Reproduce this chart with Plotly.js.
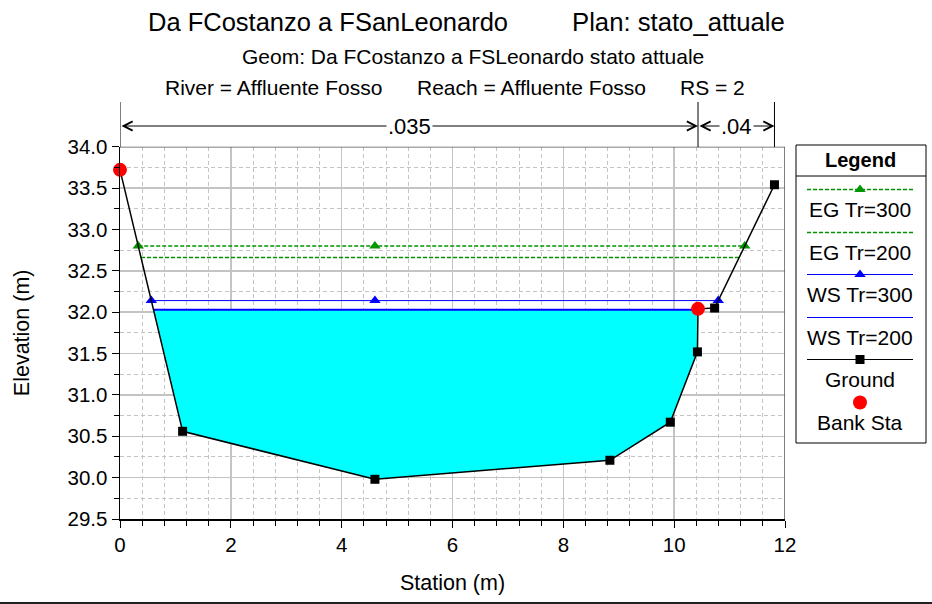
<!DOCTYPE html>
<html>
<head>
<meta charset="utf-8">
<script src="https://cdn.plot.ly/plotly-3.0.1.min.js"></script>
<style>html,body{margin:0;padding:0;background:#fff}#chart{width:932px;height:604px}</style>
</head>
<body>
<div id="chart"></div>
<script>
// ---- data ----
const groundStation = [0, 1.13, 4.60, 8.84, 9.93, 10.42, 10.43, 10.73, 11.81];
const groundElev    = [33.72, 30.56, 29.98, 30.21, 30.67, 31.52, 32.04, 32.05, 33.54];
const bankStation   = [0, 10.43];
const bankElev      = [33.72, 32.04];
const wsNames  = ['EG Tr=300', 'EG Tr=200', 'WS Tr=300', 'WS Tr=200'];
const wsElev   = [32.80, 32.66, 32.14, 32.03];
const nStations = [0, 10.43, 11.81];
const nValues   = ['.035', '.04'];
const titleLine1a = 'Da FCostanzo a FSanLeonardo';
const titleLine1b = 'Plan: stato_attuale';
const titleLine2  = 'Geom: Da FCostanzo a FSLeonardo stato attuale';
const titleLine3  = ['River = Affluente Fosso', 'Reach = Affluente Fosso', 'RS = 2'];
const legendNames = ['EG Tr=300', 'EG Tr=200', 'WS Tr=300', 'WS Tr=200', 'Ground', 'Bank Sta'];

const FONT = '"Liberation Sans", Arial, Helvetica, sans-serif';
const GREEN = '#009600';
const BLUE = '#0000ff';
const GRID = '#c4c4c4';
const EGDASH = '4px,2px';

// crossings of a level with the ground polyline
function crossings(level) {
  const xs = [];
  for (let i = 0; i < groundStation.length - 1; i++) {
    const y0 = groundElev[i], y1 = groundElev[i + 1];
    if ((y0 - level) * (y1 - level) <= 0 && y0 !== y1) {
      const t = (level - y0) / (y1 - y0);
      xs.push(groundStation[i] + t * (groundStation[i + 1] - groundStation[i]));
    }
  }
  return [xs[0], xs[xs.length - 1]];
}
// water polygon below level
function waterPoly(level) {
  const [xl, xr] = crossings(level);
  const px = [xl], py = [level];
  for (let i = 0; i < groundStation.length; i++) {
    if (groundStation[i] > xl && groundStation[i] < xr) { px.push(groundStation[i]); py.push(groundElev[i]); }
  }
  px.push(xr); py.push(level); px.push(xl); py.push(level);
  return {px, py, xl, xr};
}
const thalweg = groundStation[groundElev.indexOf(Math.min(...groundElev))];

const traces = [];
// fill for WS Tr=200
const wp = waterPoly(wsElev[3]);
traces.push({x: wp.px, y: wp.py, type: 'scatter', mode: 'lines', fill: 'toself',
  fillcolor: '#00ffff', line: {width: 0}, hoverinfo: 'skip', xaxis: 'x', yaxis: 'y'});

const wsStyles = [
  {color: GREEN, dash: EGDASH, width: 1.5, marker: 'triangle-up'},
  {color: GREEN, dash: EGDASH, width: 1.5, marker: null},
  {color: BLUE, dash: 'solid', width: 1, marker: 'triangle-up'},
  {color: BLUE, dash: 'solid', width: 2, marker: null}
];
wsElev.forEach((lv, k) => {
  const [xl, xr] = crossings(lv);
  const st = wsStyles[k];
  const xs = st.marker ? [xl, thalweg, xr] : [xl, xr];
  traces.push({x: xs, y: xs.map(() => lv), type: 'scatter',
    mode: st.marker ? 'lines+markers' : 'lines', name: wsNames[k],
    line: {color: st.color, dash: st.dash, width: st.width},
    marker: {symbol: st.marker || 'circle', size: 10, color: st.color},
    xaxis: 'x', yaxis: 'y'});
});
traces.push({x: groundStation, y: groundElev, type: 'scatter', mode: 'lines+markers', name: 'Ground',
  line: {color: '#000', width: 1.5}, marker: {symbol: 'square', size: 9, color: '#000'}, xaxis: 'x', yaxis: 'y'});
traces.push({x: bankStation, y: bankElev, type: 'scatter', mode: 'markers', name: 'Bank Sta',
  marker: {symbol: 'circle', size: 14, color: '#ff0000'}, cliponaxis: false, xaxis: 'x', yaxis: 'y'});

// ---- custom legend (pixel-space overlay axes x2/y2) ----
const legX0 = 796, legX1 = 926, legY0 = 145, legY1 = 443;
const legLineY0 = 189, legStep = 42.6, legLabelOff = 19.5;
const legMarkers = [
  {symbol: 'triangle-up', color: GREEN, size: 10},
  null,
  {symbol: 'triangle-up', color: BLUE, size: 10},
  null,
  {symbol: 'square', color: '#000', size: 9},
  {symbol: 'circle', color: '#ff0000', size: 14}
];
const legLines = [
  {color: GREEN, dash: EGDASH, width: 1.5},
  {color: GREEN, dash: EGDASH, width: 1.5},
  {color: BLUE, dash: 'solid', width: 1.2},
  {color: BLUE, dash: 'solid', width: 1.2},
  {color: '#000', dash: 'solid', width: 1.2},
  null
];
const shapes = [];
const annotations = [];
legendNames.forEach((nm, i) => {
  const yy = Math.round(legLineY0 + i * legStep) + 0.5;
  if (legLines[i]) shapes.push({type: 'line', xref: 'x2', yref: 'y2', x0: 807, x1: 913, y0: yy, y1: yy,
    line: {color: legLines[i].color, dash: legLines[i].dash, width: legLines[i].width}});
  if (legMarkers[i]) traces.push({x: [860], y: [yy], type: 'scatter', mode: 'markers', xaxis: 'x2', yaxis: 'y2',
    marker: legMarkers[i], hoverinfo: 'skip', cliponaxis: false});
  annotations.push({xref: 'x2', yref: 'y2', x: 860, y: yy + legLabelOff, text: nm, showarrow: false,
    xanchor: 'center', yanchor: 'middle', font: {family: FONT, size: 21, color: '#000'}});
});
shapes.push({type: 'rect', xref: 'x2', yref: 'y2', x0: legX0, x1: legX1, y0: legY0, y1: legY1, line: {color: '#000', width: 1}});
shapes.push({type: 'line', xref: 'x2', yref: 'y2', x0: legX0, x1: legX1, y0: 176, y1: 176, line: {color: '#000', width: 1}});
annotations.push({xref: 'x2', yref: 'y2', x: 860, y: 160, text: '<b>Legend</b>', showarrow: false,
  xanchor: 'center', yanchor: 'middle', font: {family: FONT, size: 20, color: '#000'}});

// plot border (top/right)
shapes.push({type: 'line', xref: 'x', yref: 'y', x0: 0, x1: 12, y0: 34, y1: 34, line: {color: '#555', width: 1.5}});
shapes.push({type: 'line', xref: 'x', yref: 'y', x0: 12, x1: 12, y0: 29.5, y1: 34, line: {color: '#555', width: 1.5}});
// bottom frame line
shapes.push({type: 'line', xref: 'x2', yref: 'y2', x0: 0, x1: 932, y0: 603, y1: 603, line: {color: '#222', width: 2}});

// Manning's n markers
nStations.forEach(s => {
  shapes.push({type: 'line', xref: 'x', yref: 'y2', x0: s, x1: s, y0: 102, y1: 147, line: {color: '#000', width: 1}});
});
for (let i = 0; i < nValues.length; i++) {
  const a = nStations[i], b = nStations[i + 1];
  annotations.push({xref: 'x', yref: 'y2', axref: 'x', ayref: 'y2', x: b, y: 126, ax: a, ay: 126,
    text: '', showarrow: true, arrowside: 'end+start', arrowhead: 5, startarrowhead: 5,
    arrowsize: 1.8, startarrowsize: 1.8, arrowwidth: 1, arrowcolor: '#000', standoff: 0, startstandoff: 0});
  annotations.push({xref: 'x', yref: 'y2', x: (a + b) / 2, y: 126, text: nValues[i], showarrow: false,
    bgcolor: '#fff', borderpad: 1, xanchor: 'center', yanchor: 'middle', font: {family: FONT, size: 22, color: '#000'}});
}

// titles
annotations.push({xref: 'x2', yref: 'y2', x: 146, y: 22, text: titleLine1a, showarrow: false, xanchor: 'left', yanchor: 'middle',
  font: {family: FONT, size: 25.5, color: '#000'}});
annotations.push({xref: 'x2', yref: 'y2', x: 570, y: 22, text: titleLine1b, showarrow: false, xanchor: 'left', yanchor: 'middle',
  font: {family: FONT, size: 25.7, color: '#000'}});
annotations.push({xref: 'x2', yref: 'y2', x: 473, y: 56, text: titleLine2, showarrow: false, xanchor: 'center', yanchor: 'middle',
  font: {family: FONT, size: 21, color: '#000'}});
[163, 415, 678].forEach((xx, i) => annotations.push({xref: 'x2', yref: 'y2', x: xx, y: 87, text: titleLine3[i], showarrow: false,
  xanchor: 'left', yanchor: 'middle', font: {family: FONT, size: 21, color: '#000'}}));

const layout = {
  width: 932, height: 604,
  margin: {l: 0, r: 0, t: 0, b: 0},
  paper_bgcolor: '#fff', plot_bgcolor: 'rgba(0,0,0,0)',
  showlegend: false,
  font: {family: FONT, color: '#000'},
  xaxis: {domain: [120 / 932, 785 / 932], range: [0, 12], dtick: 2, tick0: 0, ticks: 'outside', ticklen: 7,
    tickcolor: '#000', showline: true, linecolor: '#000', linewidth: 1.5, zeroline: false,
    showgrid: true, gridcolor: GRID, gridwidth: 1.5,
    minor: {dtick: 0.4, ticks: 'outside', ticklen: 5, tickcolor: '#000', showgrid: true, gridcolor: GRID, gridwidth: 1, griddash: '4px,3px'},
    tickfont: {family: FONT, size: 20.5}, automargin: false,
    title: {text: 'Station (m)', font: {family: FONT, size: 21.5}, standoff: 20}},
  yaxis: {domain: [85 / 604, 457.3 / 604], range: [29.5, 34.0], dtick: 0.5, tick0: 29.5, tickformat: '.1f', ticks: 'outside', ticklen: 7,
    tickcolor: '#000', showline: true, linecolor: '#000', linewidth: 1.5, zeroline: false,
    showgrid: true, gridcolor: GRID, gridwidth: 1.5,
    minor: {dtick: 0.25, ticks: 'outside', ticklen: 5, tickcolor: '#000', showgrid: true, gridcolor: GRID, gridwidth: 1, griddash: '4px,3px'},
    tickfont: {family: FONT, size: 20.5}, automargin: false,
    title: {text: 'Elevation (m)', font: {family: FONT, size: 21.5}, standoff: 32}},
  xaxis2: {domain: [0, 1], range: [0, 932], visible: false, fixedrange: true, anchor: 'y2'},
  yaxis2: {domain: [0, 1], range: [604, 0], visible: false, fixedrange: true, anchor: 'x2'},
  shapes: shapes,
  annotations: annotations
};

Plotly.newPlot('chart', traces, layout, {displayModeBar: false, staticPlot: true});
</script>
</body>
</html>
